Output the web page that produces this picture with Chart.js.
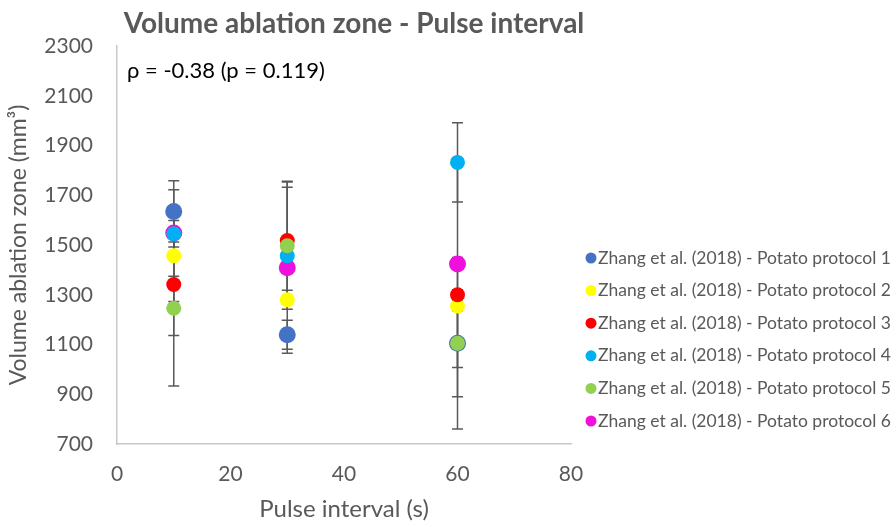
<!DOCTYPE html>
<html><head><meta charset="utf-8">
<script src="https://cdn.jsdelivr.net/npm/chart.js@4.4.1/dist/chart.umd.min.js"></script>
<style>html,body{margin:0;padding:0;background:#fff;}#wrap{width:896px;height:527px;position:relative;}</style>
</head><body><div id="wrap"><canvas id="c"></canvas></div>
<script>
const chartTitle = 'Volume ablation zone - Pulse interval';
const annotationText = 'ρ = -0.38 (p = 0.119)';
const xTitle = 'Pulse interval (s)';
const yTitle = 'Volume ablation zone (mm³)';
const seriesLabels = [
  'Zhang et al. (2018) - Potato protocol 1',
  'Zhang et al. (2018) - Potato protocol 2',
  'Zhang et al. (2018) - Potato protocol 3',
  'Zhang et al. (2018) - Potato protocol 4',
  'Zhang et al. (2018) - Potato protocol 5',
  'Zhang et al. (2018) - Potato protocol 6'
];
const pulseIntervals = [10, 30, 60];
const protocol1 = [1635, 1139, 1105];
const protocol2 = [1457, 1280, 1255];
const protocol3 = [1341, 1518, 1300];
const protocol4 = [1545, 1457, 1832];
const protocol5 = [1246, 1497, 1105];
const protocol6 = [1548, 1409, 1424];
const error1 = [123, 58, 345];
const error2 = [184, 38, 20];
const error3 = [205, 238, 20];
const error4 = [53, 25, 159];
const error5 = [313, 235, 215];
const error6 = [174, 344, 416];
const yTicks = [700, 900, 1100, 1300, 1500, 1700, 1900, 2100, 2300];
const xTicks = [0, 20, 40, 60, 80];

const values = [protocol1, protocol2, protocol3, protocol4, protocol5, protocol6];
const errors = [error1, error2, error3, error4, error5, error6];
const colors = ['#4472C4', '#FFFF00', '#FF0000', '#00B0F0', '#92D050', '#F010DC'];
const orders = [6, 5, 4, 2, 1, 3];
const radii = [8.5, 7.5, 7.5, 7.5, 7.5, 8.5];

const FONT = 'Lato, "Open Sans", sans-serif';
const GREY = '#595959';

const datasets = values.map((vals, i) => ({
  label: seriesLabels[i],
  data: vals.map((v, j) => ({x: pulseIntervals[j], y: v})),
  errors: errors[i],
  backgroundColor: colors[i],
  borderColor: colors[i],
  pointRadius: radii[i],
  pointHoverRadius: radii[i],
  pointBorderWidth: 0,
  showLine: false,
  order: orders[i]
}));

const errorBars = {
  id: 'errorBars',
  beforeDatasetsDraw(chart) {
    const {ctx, scales: {x, y}} = chart;
    ctx.save();
    ctx.strokeStyle = GREY;
    ctx.lineWidth = 1.5;
    chart.data.datasets.forEach(ds => {
      ds.data.forEach((pt, i) => {
        const e = ds.errors[i];
        const px = x.getPixelForValue(pt.x);
        const top = y.getPixelForValue(pt.y + e);
        const bot = y.getPixelForValue(pt.y - e);
        ctx.beginPath();
        ctx.moveTo(px, top); ctx.lineTo(px, bot);
        ctx.moveTo(px - 5.5, top); ctx.lineTo(px + 5.5, top);
        ctx.moveTo(px - 5.5, bot); ctx.lineTo(px + 5.5, bot);
        ctx.stroke();
      });
    });
    ctx.restore();
  }
};

const decorations = {
  id: 'decorations',
  afterDraw(chart) {
    const {ctx} = chart;
    ctx.save();
    ctx.fillStyle = GREY;
    ctx.font = 'bold 28px ' + FONT;
    ctx.textAlign = 'center';
    ctx.textBaseline = 'middle';
    ctx.fillText(chartTitle, 354, 24);
    ctx.fillStyle = '#000';
    ctx.font = '22px ' + FONT;
    ctx.textAlign = 'left';
    ctx.fillText(annotationText, 127, 71);
    ctx.font = '17.5px ' + FONT;
    chart.data.datasets.forEach((ds, i) => {
      const cy = 258 + i * 32.6;
      ctx.beginPath();
      ctx.fillStyle = ds.backgroundColor;
      ctx.arc(591, cy, 5.5, 0, Math.PI * 2);
      ctx.fill();
      ctx.fillStyle = GREY;
      ctx.fillText(ds.label, 598, cy);
    });
    ctx.restore();
  }
};

new Chart(document.getElementById('c'), {
  type: 'scatter',
  data: {datasets},
  options: {
    responsive: true,
    maintainAspectRatio: false,
    animation: false,
    events: [],
    layout: {padding: {top: 46, right: 325, left: 0, bottom: 0}},
    plugins: {legend: {display: false}, tooltip: {enabled: false}, title: {display: false}},
    scales: {
      x: {
        type: 'linear', min: 0, max: 80,
        afterBuildTicks(s) { s.ticks = xTicks.map(v => ({value: v})); },
        afterFit(s) { s.height = 83; },
        grid: {display: true, drawOnChartArea: false, drawTicks: false, color: 'rgba(0,0,0,0)'},
        border: {display: true, color: '#C8C8C8', width: 1.5},
        ticks: {color: GREY, font: {family: FONT, size: 21}, padding: 18, maxRotation: 0, callback: v => String(v)},
        title: {display: true, text: xTitle, color: GREY, font: {family: FONT, size: 24}, padding: {top: 0, bottom: 3}}
      },
      y: {
        type: 'linear', min: 700, max: 2300,
        afterBuildTicks(s) { s.ticks = yTicks.map(v => ({value: v})); },
        afterFit(s) { s.width = 117; },
        grid: {display: true, drawOnChartArea: false, drawTicks: false, color: 'rgba(0,0,0,0)'},
        border: {display: true, color: '#C8C8C8', width: 1.5},
        ticks: {color: GREY, font: {family: FONT, size: 21}, padding: 24, callback: v => String(v)},
        title: {display: true, text: yTitle, color: GREY, font: {family: FONT, size: 23}, padding: {top: 5, bottom: 0}}
      }
    }
  },
  plugins: [errorBars, decorations]
});
</script></body></html>
